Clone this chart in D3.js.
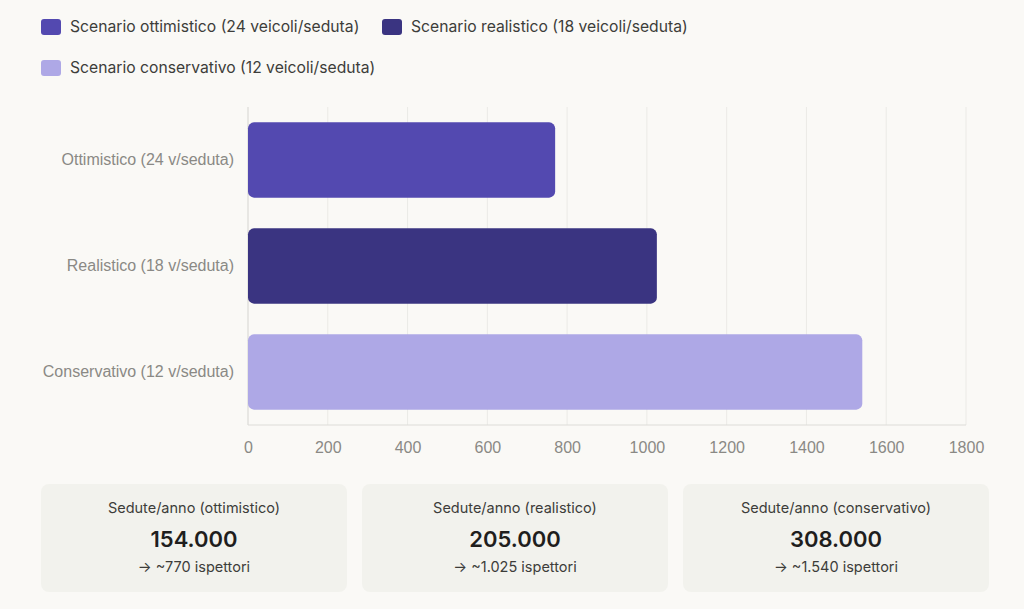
<!DOCTYPE html>
<html><head><meta charset="utf-8">
<script src="https://cdn.jsdelivr.net/npm/d3@7"></script>
<style>
html,body{margin:0;padding:0;background:#faf9f6;}
svg{display:block;}
</style></head>
<body>
<svg id="c" width="1024" height="609"></svg>
<script>
const categories = ["Ottimistico (24 v/seduta)", "Realistico (18 v/seduta)", "Conservativo (12 v/seduta)"];
const values = [770, 1025, 1540];
const colors = ["#5349b0", "#3a3481", "#aea8e6"];
const legendLabels = ["Scenario ottimistico (24 veicoli/seduta)", "Scenario realistico (18 veicoli/seduta)", "Scenario conservativo (12 veicoli/seduta)"];
const xTicks = [0, 200, 400, 600, 800, 1000, 1200, 1400, 1600, 1800];
const cardTitles = ["Sedute/anno (ottimistico)", "Sedute/anno (realistico)", "Sedute/anno (conservativo)"];
const cardValues = ["154.000", "205.000", "308.000"];
const cardSubs = ["→ ~770 ispettori", "→ ~1.025 ispettori", "→ ~1.540 ispettori"];

const svg = d3.select("#c");
const uiFont = "Inter, 'Open Sans', sans-serif";
const axFont = "'Liberation Sans', Arial, sans-serif";

// Legend
const legendPos = [[41, 27], [382, 27], [41, 68]];
legendLabels.forEach((t, i) => {
  const [lx, ly] = legendPos[i];
  svg.append("rect").attr("x", lx).attr("y", ly - 8).attr("width", 20).attr("height", 16).attr("rx", 3).attr("fill", colors[i]);
  svg.append("text").attr("x", lx + 29).attr("y", ly).attr("dy", "0.35em")
    .attr("font-family", uiFont).attr("font-size", 15.7).attr("fill", "#3d3d3a").text(t);
});

// Chart
const x = d3.scaleLinear().domain([0, 1800]).range([248, 966]);
const y = d3.scaleBand().domain(categories).range([107, 425]).paddingInner(0.29).paddingOuter(0.145);

svg.append("g").selectAll("line").data(xTicks).join("line")
  .attr("x1", d => x(d)).attr("x2", d => x(d)).attr("y1", 107).attr("y2", 425)
  .attr("stroke", "#ebeae6").attr("stroke-width", 1);

svg.append("line").attr("x1", 248).attr("x2", 248).attr("y1", 107).attr("y2", 425).attr("stroke", "#dddcd8");
svg.append("line").attr("x1", 248).attr("x2", 966).attr("y1", 425).attr("y2", 425).attr("stroke", "#dddcd8");

svg.append("g").selectAll("rect").data(values).join("rect")
  .attr("x", x(0)).attr("y", (d, i) => y(categories[i]))
  .attr("width", d => x(d) - x(0)).attr("height", y.bandwidth())
  .attr("rx", 6).attr("fill", (d, i) => colors[i]);

const xAxis = svg.append("g").attr("transform", "translate(0,425)")
  .call(d3.axisBottom(x).tickValues(xTicks).tickSize(0).tickPadding(17).tickFormat(d3.format("d")));
xAxis.select(".domain").remove();
xAxis.selectAll("text").attr("font-family", axFont).attr("font-size", 16).attr("fill", "#8a8985");

const yAxis = svg.append("g").attr("transform", "translate(248,0)")
  .call(d3.axisLeft(y).tickSize(0).tickPadding(14));
yAxis.select(".domain").remove();
yAxis.selectAll("text").attr("font-family", axFont).attr("font-size", 16).attr("fill", "#8a8985");

// Cards
const cardX = [41, 362, 683];
cardTitles.forEach((t, i) => {
  const cx = cardX[i];
  const g = svg.append("g");
  g.append("rect").attr("x", cx).attr("y", 484).attr("width", 306).attr("height", 108).attr("rx", 8).attr("fill", "#f2f2ed");
  g.append("text").attr("x", cx + 153).attr("y", 508).attr("dy", "0.35em").attr("text-anchor", "middle")
    .attr("font-family", uiFont).attr("font-size", 14.5).attr("fill", "#3d3d3a").text(t);
  g.append("text").attr("x", cx + 153).attr("y", 539).attr("dy", "0.35em").attr("text-anchor", "middle")
    .attr("font-family", uiFont).attr("font-size", 22).attr("font-weight", 600).attr("fill", "#1f1e1d").text(cardValues[i]);
  g.append("text").attr("x", cx + 153).attr("y", 567).attr("dy", "0.35em").attr("text-anchor", "middle")
    .attr("font-family", uiFont).attr("font-size", 14.5).attr("fill", "#3d3d3a").text(cardSubs[i]);
});
</script>
</body></html>
